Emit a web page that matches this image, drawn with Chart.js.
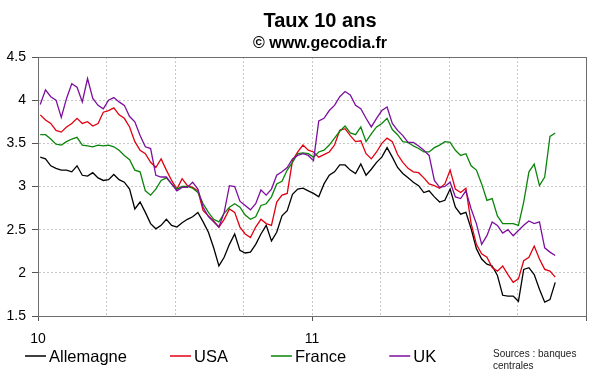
<!DOCTYPE html>
<html lang="fr">
<head>
<meta charset="utf-8">
<title>Taux 10 ans</title>
<script src="https://cdn.jsdelivr.net/npm/chart.js@4"></script>
<style>
  html, body { margin: 0; padding: 0; background: #fff; }
</style>
</head>
<body>
<canvas id="graphique" width="600" height="372"></canvas>
<script>
const titre = "Taux 10 ans";
const sousTitre = "© www.gecodia.fr";
const sources = ["Sources : banques", "centrales"];

// relevés hebdomadaires, jours comptés depuis le 1er janvier 2010
const debut = 3;
const pas = 7;

const allemagne = [
  3.34, 3.32, 3.24, 3.21, 3.19, 3.19, 3.17, 3.24, 3.13, 3.12, 3.16, 3.10, 3.07, 3.08, 3.14, 3.08, 3.05, 2.97, 2.74, 2.82, 2.70, 2.57, 2.51, 2.55, 2.62, 2.55, 2.53,
  2.58, 2.62, 2.65, 2.70, 2.59, 2.47, 2.29, 2.08, 2.18, 2.33, 2.45, 2.26, 2.23, 2.24, 2.33, 2.45, 2.55, 2.37, 2.47, 2.66, 2.72, 2.91, 2.97, 2.98, 2.95, 2.92,
  2.88, 3.03, 3.13, 3.17, 3.25, 3.25, 3.19, 3.15, 3.26, 3.13, 3.20, 3.28, 3.34, 3.45, 3.34, 3.22, 3.15, 3.10, 3.05, 3.01, 2.93, 2.95, 2.88, 2.82, 2.84, 2.97,
  2.76, 2.68, 2.70, 2.51, 2.28, 2.16, 2.10, 2.08, 1.97, 1.74, 1.73, 1.73, 1.67, 2.04, 2.06, 1.98, 1.81, 1.66, 1.69, 1.89
];
const usa = [
  3.83, 3.77, 3.73, 3.65, 3.63, 3.69, 3.73, 3.79, 3.73, 3.75, 3.70, 3.73, 3.86, 3.88, 3.91, 3.83, 3.79, 3.69, 3.52, 3.42, 3.38, 3.28, 3.22, 3.32, 3.19, 3.07, 2.97,
  3.09, 3.01, 2.99, 2.95, 2.72, 2.66, 2.60, 2.53, 2.62, 2.74, 2.70, 2.53, 2.45, 2.41, 2.53, 2.62, 2.57, 2.55, 2.82, 2.90, 2.92, 3.30, 3.40, 3.48, 3.42, 3.40,
  3.34, 3.37, 3.40, 3.48, 3.65, 3.67, 3.59, 3.52, 3.53, 3.38, 3.32, 3.40, 3.50, 3.56, 3.52, 3.37, 3.28, 3.21, 3.17, 3.16, 3.10, 3.03, 3.01, 2.98, 3.03, 3.19,
  2.97, 2.93, 2.98, 2.57, 2.33, 2.22, 2.18, 2.06, 2.02, 2.08, 1.98, 1.89, 1.93, 2.14, 2.18, 2.31, 2.16, 2.04, 2.02, 1.95
];
const france = [
  3.60, 3.60, 3.55, 3.49, 3.48, 3.52, 3.55, 3.57, 3.48, 3.47, 3.46, 3.48, 3.47, 3.48, 3.46, 3.42, 3.36, 3.31, 3.19, 3.17, 2.95, 2.90, 2.97, 3.07, 3.10, 3.03, 2.97,
  3.00, 3.00, 2.98, 2.93, 2.80, 2.70, 2.62, 2.59, 2.69, 2.76, 2.80, 2.76, 2.67, 2.62, 2.65, 2.78, 2.80, 2.88, 3.03, 3.06, 3.19, 3.28, 3.38, 3.39, 3.38, 3.34,
  3.40, 3.42, 3.48, 3.56, 3.64, 3.70, 3.62, 3.60, 3.69, 3.52, 3.61, 3.69, 3.73, 3.79, 3.66, 3.60, 3.52, 3.51, 3.47, 3.44, 3.40, 3.40, 3.45, 3.48, 3.52, 3.51,
  3.42, 3.36, 3.38, 3.24, 3.19, 3.03, 2.84, 2.86, 2.66, 2.57, 2.57, 2.57, 2.55, 2.82, 3.17, 3.26, 3.01, 3.11, 3.58, 3.62
];
const uk = [
  3.95, 4.12, 4.04, 4.00, 3.80, 4.02, 4.19, 4.15, 3.98, 4.25, 4.02, 3.94, 3.90, 4.00, 4.03, 3.98, 3.94, 3.81, 3.75, 3.59, 3.46, 3.44, 3.13, 3.11, 3.11, 3.03, 2.95,
  2.99, 2.99, 3.05, 2.97, 2.76, 2.65, 2.59, 2.53, 2.70, 3.01, 3.00, 2.83, 2.78, 2.73, 2.80, 2.96, 2.90, 2.97, 3.13, 3.17, 3.22, 3.32, 3.36, 3.38, 3.36, 3.30,
  3.76, 3.79, 3.88, 3.94, 4.04, 4.10, 4.06, 3.94, 3.90, 3.79, 3.69, 3.79, 3.88, 3.92, 3.73, 3.65, 3.59, 3.51, 3.51, 3.47, 3.42, 3.36, 3.07, 2.99, 3.00, 3.05,
  2.88, 2.86, 2.95, 2.74, 2.57, 2.33, 2.43, 2.59, 2.55, 2.46, 2.50, 2.43, 2.49, 2.55, 2.60, 2.57, 2.59, 2.29, 2.24, 2.20
];

const pays = ["Allemagne", "USA", "France", "UK"];
const couleurs = ["#000000", "#e00010", "#0a850a", "#7d0f9e"];
const valeurs = [allemagne, usa, france, uk];

const graduationsX = [0, 91.25, 182.5, 273.75, 365, 456.25, 547.5, 638.75, 730];
const anneesJours = [0, 365];
const anneesLabels = ["10", "11"];
const graduationsY = [1.5, 2, 2.5, 3, 3.5, 4, 4.5];
const etiquettesY = ["1.5", "2", "2.5", "3", "3.5", "4", "4.5"];

const police = '"Liberation Sans", Arial, sans-serif';
Chart.defaults.font.family = police;
Chart.defaults.color = "#000";

const jours = allemagne.map((_, i) => debut + pas * i);

// titres, cadre, légende et sources
const habillage = {
  id: "habillage",
  afterDraw(chart) {
    const ctx = chart.ctx;
    const a = chart.chartArea;
    ctx.save();
    ctx.strokeStyle = "#6e6e6e";
    ctx.lineWidth = 1;
    ctx.strokeRect(a.left + 0.5, a.top + 0.5, a.right - a.left, a.bottom - a.top);

    ctx.fillStyle = "#000";
    ctx.textAlign = "center";
    ctx.textBaseline = "alphabetic";
    ctx.font = "bold 20px " + police;
    ctx.fillText(titre, 320, 27);
    ctx.font = "bold 16px " + police;
    ctx.fillText(sousTitre, 320, 48);

    ctx.textAlign = "left";
    ctx.textBaseline = "middle";
    ctx.font = "16.5px " + police;
    let x = 25;
    const y = 356;
    chart.data.datasets.forEach(ds => {
      ctx.strokeStyle = ds.borderColor;
      ctx.lineWidth = 1.5;
      ctx.beginPath();
      ctx.moveTo(x, y);
      ctx.lineTo(x + 21, y);
      ctx.stroke();
      ctx.fillStyle = "#000";
      ctx.fillText(ds.label, x + 24, y + 1);
      x += 24 + ctx.measureText(ds.label).width + 43;
    });

    ctx.textBaseline = "alphabetic";
    ctx.font = "10px " + police;
    ctx.fillStyle = "#222";
    ctx.fillText(sources[0], 493, 357);
    ctx.fillText(sources[1], 493, 369);
    ctx.restore();
  }
};

new Chart(document.getElementById("graphique"), {
  type: "line",
  data: {
    datasets: pays.map((nom, k) => ({
      label: nom,
      data: jours.map((j, i) => ({ x: j, y: valeurs[k][i] })),
      borderColor: couleurs[k],
      backgroundColor: couleurs[k],
      borderWidth: 1.3,
      pointRadius: 0,
      tension: 0,
      fill: false,
      order: pays.length - k
    }))
  },
  options: {
    responsive: false,
    animation: false,
    layout: { padding: { top: 57, right: 14, bottom: 22, left: 0 } },
    plugins: {
      legend: { display: false },
      title: { display: false },
      tooltip: { enabled: false }
    },
    scales: {
      x: {
        type: "linear",
        min: 0,
        max: 730,
        afterBuildTicks: axis => { axis.ticks = graduationsX.map(v => ({ value: v })); },
        afterFit: axis => { axis.height = 34; },
        ticks: {
          autoSkip: false,
          maxRotation: 0,
          padding: 10,
          font: { size: 14 },
          callback: v => {
            const i = anneesJours.indexOf(v);
            return i >= 0 ? anneesLabels[i] : "";
          }
        },
        grid: {
          color: "#c8c8c8",
          tickLength: 5,
          tickColor: c => (c.tick && c.tick.value % 365 === 0) ? "#555" : "rgba(0,0,0,0)"
        },
        border: { color: "#555", dash: [2, 2] }
      },
      y: {
        min: 1.5,
        max: 4.5,
        afterBuildTicks: axis => { axis.ticks = graduationsY.map(v => ({ value: v })); },
        afterFit: axis => { axis.width = 38; },
        ticks: {
          padding: 6,
          font: { size: 14 },
          callback: (v, i) => etiquettesY[i]
        },
        grid: { color: "#c8c8c8", tickLength: 6, tickColor: "#555" },
        border: { color: "#555", dash: [2, 2] }
      }
    }
  },
  plugins: [habillage]
});
</script>
</body>
</html>
